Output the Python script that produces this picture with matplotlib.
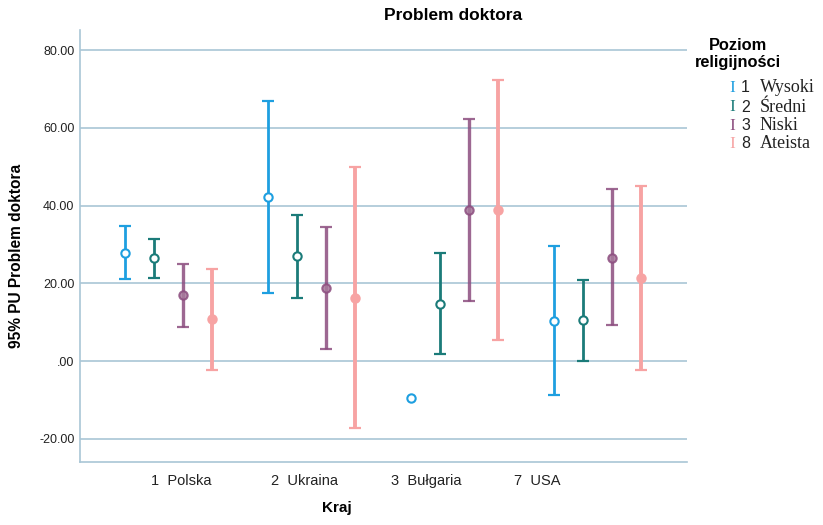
import numpy as np
import matplotlib
matplotlib.use('Agg')
import matplotlib.pyplot as plt

# countries on the x axis
countries = ['1  Polska', '2  Ukraina', '3  Bułgaria', '7  USA']
levels = ['Wysoki', 'Średni', 'Niski', 'Ateista']
level_codes = ['1', '2', '3', '8']

# 95% CI: mean, lower, upper per country
wysoki_mean = [27.9, 42.1, -9.4, 10.3]
wysoki_low = [21.1, 17.4, np.nan, -8.8]
wysoki_high = [34.7, 66.9, np.nan, 29.5]

sredni_mean = [26.5, 27.0, 14.7, 10.5]
sredni_low = [21.5, 16.2, 1.8, 0.1]
sredni_high = [31.3, 37.7, 27.8, 20.9]

niski_mean = [16.9, 18.7, 38.8, 26.6]
niski_low = [8.8, 3.0, 15.5, 9.3]
niski_high = [25.1, 34.5, 62.2, 44.2]

ateista_mean = [10.7, 16.3, 38.8, 21.4]
ateista_low = [-2.2, -17.3, 5.3, -2.3]
ateista_high = [23.7, 50.0, 72.3, 45.1]

series = [
    (wysoki_mean, wysoki_low, wysoki_high),
    (sredni_mean, sredni_low, sredni_high),
    (niski_mean, niski_low, niski_high),
    (ateista_mean, ateista_low, ateista_high),
]

colours = ['#1e9fe0', '#1b7b79', '#8c4d7f', '#f7a3a3']
faces = ['white', 'white', '#a77a9c', '#f7a3a3']
alphas = [1.0, 1.0, 0.85, 1.0]
widths = [2, 2, 2.4, 2.8]

grid_col = '#a9c6d6'
label_pos = [0.09, 0.95, 1.80, 2.58]
offset = 0.2028

fig = plt.figure(figsize=(8.23, 5.25), dpi=100)
ax = fig.add_axes([0.0972, 0.1206, 0.7376, 0.8223])

x = np.arange(len(countries))
for i, (mean, low, high) in enumerate(series):
    mean = np.array(mean)
    low = np.array(low)
    high = np.array(high)
    xs = x + (i - 1.5) * offset
    ok = ~np.isnan(low)
    ax.errorbar(xs[ok], mean[ok], yerr=[mean[ok] - low[ok], high[ok] - mean[ok]],
                fmt='none', ecolor=colours[i], elinewidth=widths[i], capsize=4, capthick=1.6,
                alpha=alphas[i], zorder=3)
    ax.plot(xs, mean, 'o', ms=6, mfc=faces[i], mec=colours[i], mew=1.5,
            alpha=alphas[i], zorder=4, ls='none')

ax.set_xlim(-0.621, 3.624)
ax.set_ylim(-25.9, 85.2)
ax.set_yticks([-20, 0, 20, 40, 60, 80])
ax.set_yticklabels(['-20.00', '.00', '20.00', '40.00', '60.00', '80.00'],
                   fontsize=9, family='Liberation Sans', color='#222222')
ax.set_xticks(label_pos)
ax.set_xticklabels(countries, fontsize=10.5, family='Liberation Sans', color='#222222')
ax.tick_params(length=0, pad=4)
ax.tick_params(axis='x', pad=9)

ax.grid(axis='y', color=grid_col, lw=1.2)
ax.set_axisbelow(True)
for s in ['top', 'right']:
    ax.spines[s].set_visible(False)
for s in ['left', 'bottom']:
    ax.spines[s].set_color(grid_col)
    ax.spines[s].set_linewidth(1.2)

fig.text(453 / 823, 1 - 15 / 525, 'Problem doktora', ha='center', va='center',
         fontsize=12.5, fontweight='bold', family='Liberation Sans')
fig.text(337 / 823, 1 - 508 / 525, 'Kraj', ha='center', va='center',
         fontsize=11, fontweight='bold', family='Liberation Sans')
fig.text(17 / 823, 1 - 256 / 525, '95% PU Problem doktora', ha='center', va='center',
         rotation=90, fontsize=11.2, fontweight='bold', family='Liberation Sans')

# legend drawn by hand
fig.text(738 / 823, 1 - 46 / 525, 'Poziom', ha='center', va='center',
         fontsize=11.8, fontweight='bold', family='Liberation Sans')
fig.text(738 / 823, 1 - 63 / 525, 'religijności', ha='center', va='center',
         fontsize=11.8, fontweight='bold', family='Liberation Sans')
rows = [87.5, 107, 126, 144]
for i in range(len(levels)):
    yy = 1 - rows[i] / 525
    fig.text(732 / 823, yy, 'I', ha='center', va='center', color=colours[i],
             fontsize=12.5, family='Liberation Serif')
    fig.text(741 / 823, yy, level_codes[i], ha='left', va='center',
             fontsize=11.5, family='Liberation Sans', color='#222222')
    fig.text(760 / 823, yy, levels[i], ha='left', va='center',
             fontsize=13, family='Liberation Serif', color='#222222')

fig.savefig('out.png', dpi=100)
